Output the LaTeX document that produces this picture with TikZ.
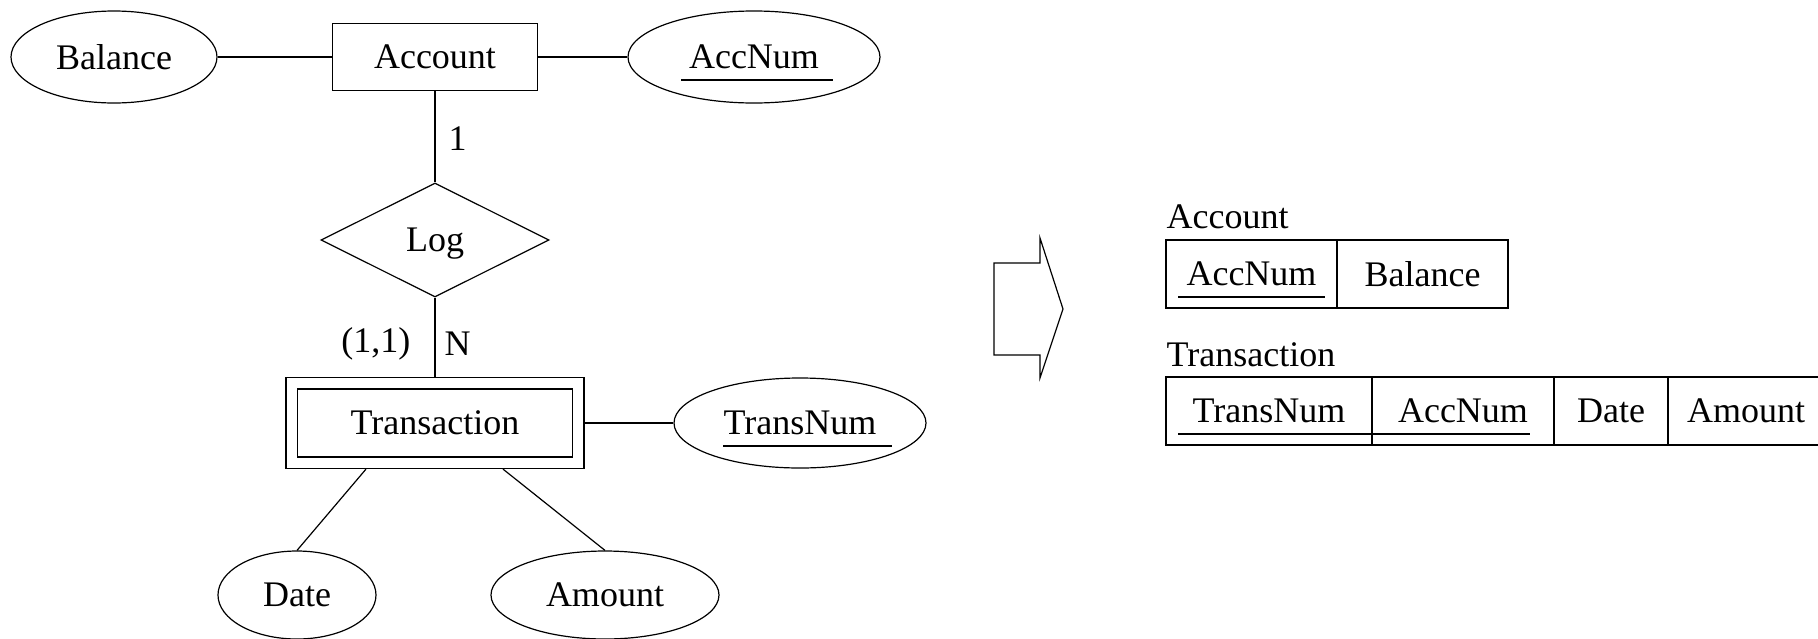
\documentclass[tikz,border=0pt]{standalone}
\usepackage{fontspec}
\setmainfont{Liberation Serif}
\usetikzlibrary{positioning,shapes.geometric}

\tikzset{
  entity/.style={draw, minimum width=205pt, minimum height=67pt},
  attrib/.style={draw, ellipse, minimum height=92pt, inner sep=0pt},
  relation/.style={draw, diamond, aspect=2, minimum width=228pt, minimum height=114pt, inner sep=0pt, text depth=0pt},
  card/.style={inner sep=0pt},
  cell/.style={draw, outer sep=0pt, inner sep=0pt, minimum height=68pt},
  tabletitle/.style={anchor=west, inner sep=0pt}
}

\begin{document}
\begin{tikzpicture}[x=1pt, y=-1pt, line width=1.2pt, font=\fontsize{36}{43}\selectfont]
  \useasboundingbox (0,0) rectangle (1818,638);

  % ER diagram
  \node[entity] (account) at (435,57) {Account};
  \node[attrib, minimum width=206pt] (balance) at (114,57) {Balance};
  \node[attrib, minimum width=252pt] (accnum) at (754,57) {AccNum};
  \node[relation] (log) at (435,240) {Log};
  \node[entity, minimum width=275pt, minimum height=68pt] (trans) at (435,423) {Transaction};
  \node[draw, minimum width=298pt, minimum height=91pt] (transbox) at (trans) {};
  \node[attrib, minimum width=252pt, minimum height=90pt] (transnum) at (800,423) {TransNum};
  \node[attrib, minimum width=158pt, minimum height=88pt] (date) at (297,595) {Date};
  \node[attrib, minimum width=228pt, minimum height=88pt] (amount) at (605,595) {Amount};

  \draw (balance) -- (account);
  \draw (account) -- (accnum);
  \draw (account) -- node[card, right=13pt, yshift=-2pt] {1} (log);
  \draw (log) -- node[card, right=9pt, yshift=-6pt] {N}
    node[card, left=24pt, yshift=-7pt] {(1,1)} (transbox);
  \draw (transbox) -- (transnum);
  \draw ([xshift=-69pt]transbox.south) -- (date.north);
  \draw ([xshift=68pt]transbox.south) -- (amount.north);

  % key underlines
  \draw ([shift={(-73,23)}]accnum.center) -- ([shift={(79,23)}]accnum.center);
  \draw ([shift={(-77,23)}]transnum.center) -- ([shift={(92,23)}]transnum.center);

  % mapping arrow
  \draw (994,263) -- (1040,263) -- (1040,238) -- (1063,309) -- (1040,378)
    -- (1040,355) -- (994,355) -- cycle;

  % relations
  \node[tabletitle] (acctitle) at (1166,217) {Account};
  \node[cell, minimum width=171pt, anchor=west] (acc1) at (1166,274) {AccNum};
  \node[cell, minimum width=171pt, right=0pt of acc1] (acc2) {Balance};
  \draw ([shift={(12,23)}]acc1.west) -- ([shift={(-12,23)}]acc1.east);

  \node[tabletitle] (transtitle) at (1166,355) {Transaction};
  \node[cell, minimum width=206pt, anchor=west] (tr1) at (1166,411) {TransNum};
  \node[cell, minimum width=182pt, right=0pt of tr1] (tr2) {AccNum};
  \node[cell, minimum width=114pt, right=0pt of tr2] (tr3) {Date};
  \node[cell, minimum width=156pt, right=0pt of tr3] (tr4) {Amount};
  \draw ([shift={(12,23)}]tr1.west) -- ([shift={(-24,23)}]tr2.east);
\end{tikzpicture}
\end{document}
